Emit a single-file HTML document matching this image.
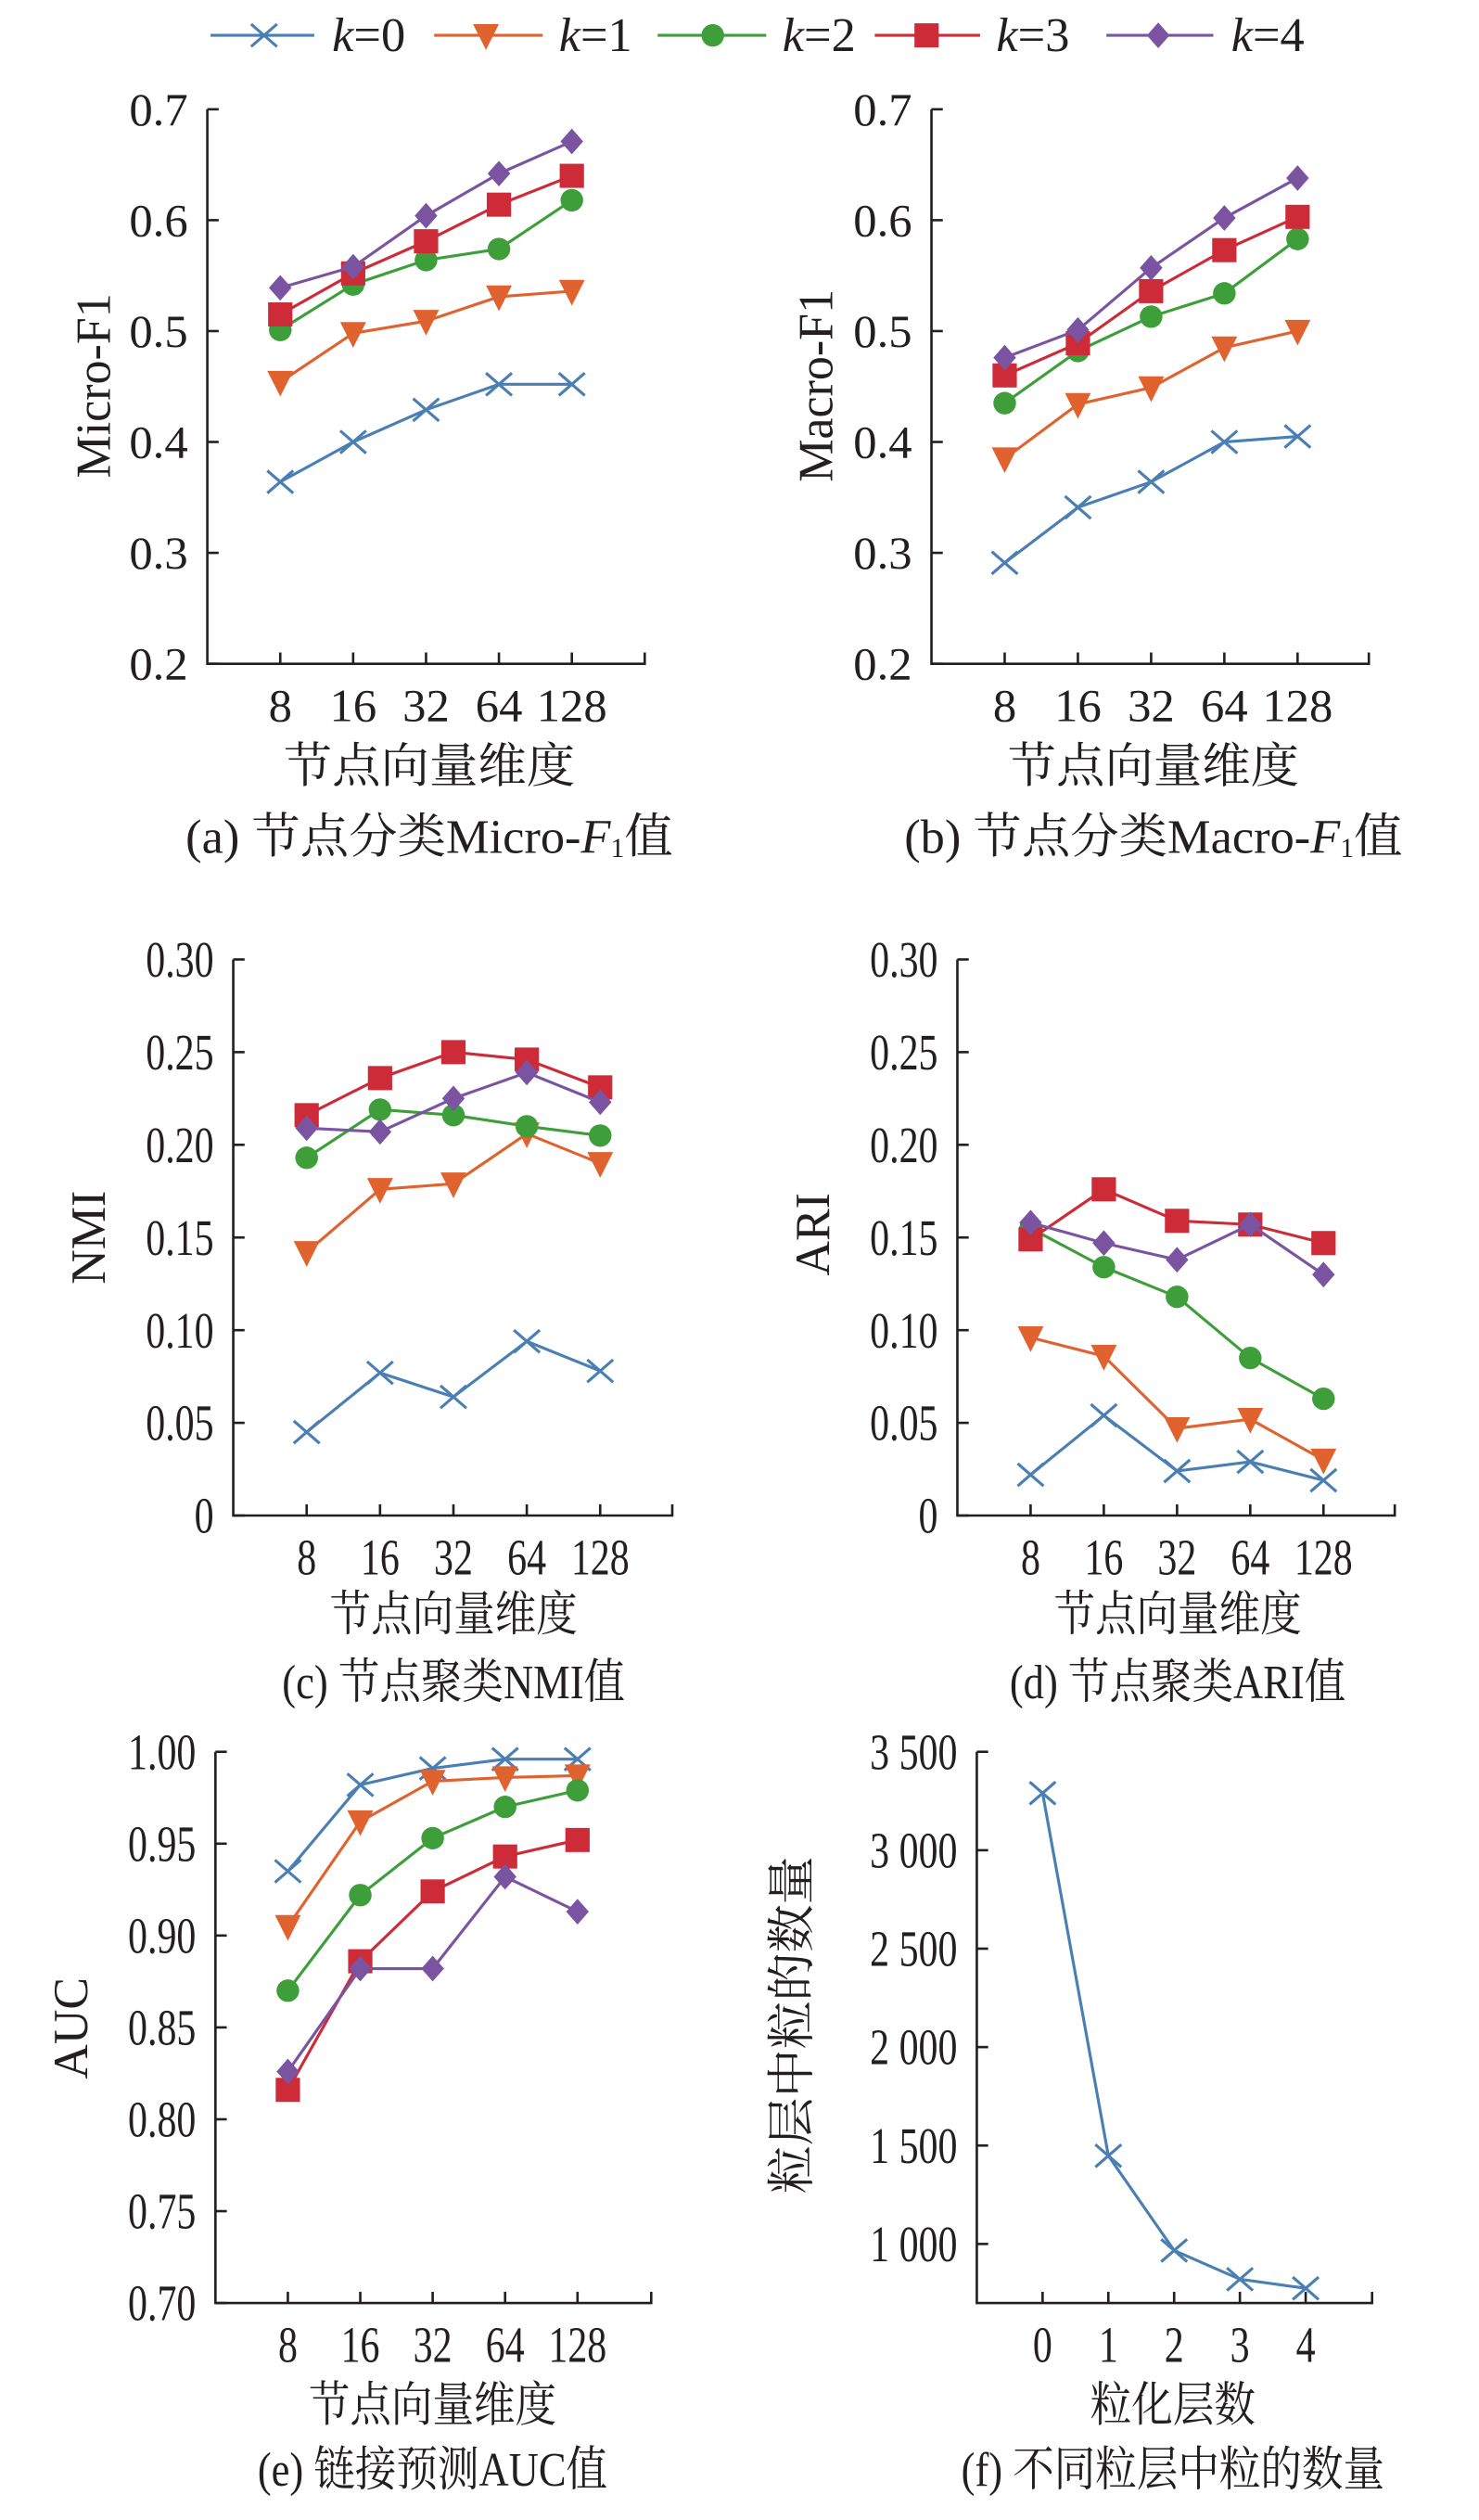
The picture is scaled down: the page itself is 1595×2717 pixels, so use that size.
<!DOCTYPE html>
<html><head><meta charset="utf-8"><style>
html,body{margin:0;padding:0;background:#fff;}
svg{display:block;}
text{font-family:"Liberation Serif","Noto Serif CJK SC",serif;fill:#231f20;}
</style></head><body>
<svg id="fig" width="1595" height="2717" viewBox="0 0 913 1568" preserveAspectRatio="none" xmlns="http://www.w3.org/2000/svg"></svg>
<script>
const dims = ["8","16","32","64","128"];
const seriesNames = ["k=0","k=1","k=2","k=3","k=4"];
const colors = ["#4a7fb3","#e0622f","#3e9e3a","#cc2b37","#7b54a1"];
const markers = ["x","tri","circle","square","diamond"];

const microF1 = [
  [0.364,0.400,0.429,0.452,0.452],
  [0.454,0.498,0.509,0.531,0.536],
  [0.501,0.542,0.564,0.574,0.618],
  [0.515,0.552,0.581,0.614,0.640],
  [0.539,0.558,0.604,0.642,0.671]
];
const macroF1 = [
  [0.291,0.341,0.364,0.400,0.405],
  [0.385,0.434,0.449,0.485,0.500],
  [0.435,0.482,0.513,0.534,0.583],
  [0.460,0.489,0.536,0.573,0.603],
  [0.476,0.501,0.557,0.602,0.638]
];
const nmi = [
  [0.045,0.077,0.064,0.094,0.078],
  [0.142,0.176,0.179,0.206,0.190],
  [0.193,0.219,0.216,0.210,0.205],
  [0.216,0.236,0.250,0.246,0.231],
  [0.209,0.207,0.225,0.239,0.223]
];
const ari = [
  [0.022,0.054,0.024,0.029,0.019],
  [0.096,0.086,0.047,0.052,0.030],
  [0.155,0.134,0.118,0.085,0.063],
  [0.149,0.176,0.159,0.157,0.147],
  [0.158,0.147,0.138,0.157,0.130]
];
const auc = [
  [0.935,0.982,0.991,0.996,0.996],
  [0.905,0.962,0.984,0.986,0.987],
  [0.870,0.922,0.953,0.970,0.979],
  [0.816,0.886,0.924,0.943,0.952],
  [0.826,0.882,0.882,0.932,0.913]
];
const levels = ["0","1","2","3","4"];
const granuleCounts = [3290,1448,967,821,775];

const ticksF1 = ["0.2","0.3","0.4","0.5","0.6","0.7"];
const ticksClust = ["0","0.05","0.10","0.15","0.20","0.25","0.30"];
const ticksAuc = ["0.70","0.75","0.80","0.85","0.90","0.95","1.00"];
const ticksCount = ["1 000","1 500","2 000","2 500","3 000","3 500"];

const NS = "http://www.w3.org/2000/svg";
const svg = document.getElementById("fig");
function el(tag, attrs, parent){
  const e = document.createElementNS(NS, tag);
  for (const k in attrs) e.setAttribute(k, attrs[k]);
  (parent||svg).appendChild(e);
  return e;
}
function txt(parent, x, y, s, size, anchor, sx){
  const t = el("text", {x:0, y:0, "font-size":size, "text-anchor":anchor||"middle", "dominant-baseline":"central",
    transform:`translate(${x},${y}) scale(${sx||1},1)`}, parent);
  t.textContent = s;
  return t;
}
function marker(parent, type, x, y, color){
  let m;
  if (type==="x"){
    m = el("path",{d:`M${x-8},${y-7}L${x+8},${y+7}M${x-8},${y+7}L${x+8},${y-7}`,stroke:color,"stroke-width":1.8,fill:"none"},parent);
  } else if (type==="tri"){
    m = el("path",{d:`M${x-8},${y-7}L${x+8},${y-7}L${x},${y+9}Z`,fill:color},parent);
  } else if (type==="circle"){
    m = el("circle",{cx:x,cy:y,r:7,fill:color},parent);
  } else if (type==="square"){
    m = el("rect",{x:x-7.5,y:y-7.5,width:15,height:15,fill:color},parent);
  } else {
    m = el("path",{d:`M${x},${y-8}L${x+7},${y}L${x},${y+8}L${x-7},${y}Z`,fill:color},parent);
  }
  return m;
}

function drawChart(c){
  const g = el("g",{});
  
  
  const sx = c.cond ? 0.75 : 1;
  const fs = c.cond ? 32 : 29;
  const xPos = i => c.x0 + c.unit*(i+1);
  const yPos = v => c.yBottom - (v - c.yMin)/(c.yMax - c.yMin)*(c.yBottom - c.yTop);
  const ax = el("path",{d:`M${c.x0},${c.yTop}L${c.x0},${c.yBottom}L${c.xEnd},${c.yBottom}L${c.xEnd},${c.yBottom-7}`,stroke:"#231f20","stroke-width":1.5,fill:"none"},g);
  
  
  c.yTicks.forEach((lab,i)=>{
    const v = c.yTickVals[i];
    const y = yPos(v);
    el("line",{x1:c.x0,y1:y,x2:c.x0+7,y2:y,stroke:"#231f20","stroke-width":1.5},g);
    const t = txt(g, c.x0-12, y, lab, fs, "end", sx);
    
    
  });
  c.cats.forEach((lab,i)=>{
    const x = xPos(i);
    el("line",{x1:x,y1:c.yBottom,x2:x,y2:c.yBottom-7,stroke:"#231f20","stroke-width":1.5},g);
    const t = txt(g, x, c.yBottom+26, lab, fs, "middle", sx);
    
    
  });
  c.series.forEach((vals,si)=>{
    const sg = el("g",{},g);
    
    
    const pts = vals.map((v,i)=>xPos(i)+","+yPos(v)).join(" ");
    el("polyline",{points:pts,fill:"none",stroke:c.colors[si],"stroke-width":1.8},sg);
    vals.forEach((v,i)=>{
      const m = marker(sg, c.markers[si], xPos(i), yPos(v), c.colors[si]);
      
      
    });
  });
  const xl = txt(g, c.xLabelX, c.xLabelY, c.xLabel, 30, "middle", c.cond ? 0.85 : 1);
  
  
  const yl = el("text", {x:0, y:0, "font-size":30, "text-anchor":"middle", "dominant-baseline":"central",
    transform:`translate(${c.yLabelX},${c.yLabelY}) rotate(-90)`}, g);
  yl.textContent = c.yLabel;
  
  
  const cap = el("text",{x:0, y:0, "font-size":30, "text-anchor":"middle","dominant-baseline":"central",
    transform:`translate(${c.xLabelX},${c.capY}) scale(${c.cond ? 0.85 : 1},1)`},g);
  cap.innerHTML = c.caption;
  
  
}

function vals(n, a, step){ const r=[]; for(let i=0;i<n;i++) r.push(+(a+i*step).toFixed(4)); return r; }

drawChart({name:"chart-micro-f1", x0:128, unit:45, xEnd:398, yTop:68, yBottom:413, yMin:0.2, yMax:0.7,
  yTicks:ticksF1, yTickVals:vals(6,0.2,0.1), cats:dims, series:microF1, colors, markers, names:seriesNames,
  xLabel:"节点向量维度", xLabelX:265, xLabelY:477, yLabel:"Micro-F1", yLabelX:58, yLabelY:240, capY:521,
  caption:'(a) 节点分类Micro-<tspan font-style="italic">F</tspan><tspan font-size="17" dy="7">1</tspan><tspan dy="-7">值</tspan>'});
drawChart({name:"chart-macro-f1", x0:575, unit:45.2, xEnd:845, yTop:68, yBottom:413, yMin:0.2, yMax:0.7,
  yTicks:ticksF1, yTickVals:vals(6,0.2,0.1), cats:dims, series:macroF1, colors, markers, names:seriesNames,
  xLabel:"节点向量维度", xLabelX:712, xLabelY:477, yLabel:"Macro-F1", yLabelX:504, yLabelY:240, capY:521,
  caption:'(b) 节点分类Macro-<tspan font-style="italic">F</tspan><tspan font-size="17" dy="7">1</tspan><tspan dy="-7">值</tspan>'});
drawChart({name:"chart-nmi", cond:true, x0:144, unit:45.3, xEnd:415, yTop:597, yBottom:943, yMin:0, yMax:0.3,
  yTicks:ticksClust, yTickVals:vals(7,0,0.05), cats:dims, series:nmi, colors, markers, names:seriesNames,
  xLabel:"节点向量维度", xLabelX:280, xLabelY:1005, yLabel:"NMI", yLabelX:55, yLabelY:770, capY:1047,
  caption:'(c) 节点聚类NMI值'});
drawChart({name:"chart-ari", cond:true, x0:591, unit:45.2, xEnd:861, yTop:597, yBottom:943, yMin:0, yMax:0.3,
  yTicks:ticksClust, yTickVals:vals(7,0,0.05), cats:dims, series:ari, colors, markers, names:seriesNames,
  xLabel:"节点向量维度", xLabelX:727, xLabelY:1005, yLabel:"ARI", yLabelX:502, yLabelY:768, capY:1047,
  caption:'(d) 节点聚类ARI值'});
drawChart({name:"chart-auc", cond:true, x0:133, unit:44.7, xEnd:402, yTop:1090, yBottom:1433, yMin:0.7, yMax:1.0,
  yTicks:ticksAuc, yTickVals:vals(7,0.7,0.05), cats:dims, series:auc, colors, markers, names:seriesNames,
  xLabel:"节点向量维度", xLabelX:267, xLabelY:1497, yLabel:"AUC", yLabelX:44, yLabelY:1262, capY:1537,
  caption:'(e) 链接预测AUC值'});
drawChart({name:"chart-granule-count", cond:true, x0:603, unit:40.6, xEnd:847, yTop:1090, yBottom:1433, yMin:700, yMax:3500,
  yTicks:ticksCount, yTickVals:vals(6,1000,500), cats:levels, series:[granuleCounts], colors:[colors[0]], markers:["x"], names:["granules"],
  xLabel:"粒化层数", xLabelX:724, xLabelY:1497, yLabel:"粒层中粒的数量", yLabelX:489, yLabelY:1260, capY:1537,
  caption:'(f) 不同粒层中粒的数量'});

const lg = el("g",{});


const legX = [[130,194,163,205],[268,335,300,345],[406,473,440,483],[540,605,572,615],[683,749,715,760]];
seriesNames.forEach((n,i)=>{
  const eg = el("g",{},lg);
  
  
  const p = legX[i];
  el("line",{x1:p[0],y1:22,x2:p[1],y2:22,stroke:colors[i],"stroke-width":1.8},eg);
  marker(eg, markers[i], p[2], 22, colors[i]);
  const t = el("text",{x:p[3],y:22,"font-size":30,"dominant-baseline":"central"},eg);
  t.innerHTML = '<tspan font-style="italic">k</tspan>=' + i;
});
</script>
</body></html>
